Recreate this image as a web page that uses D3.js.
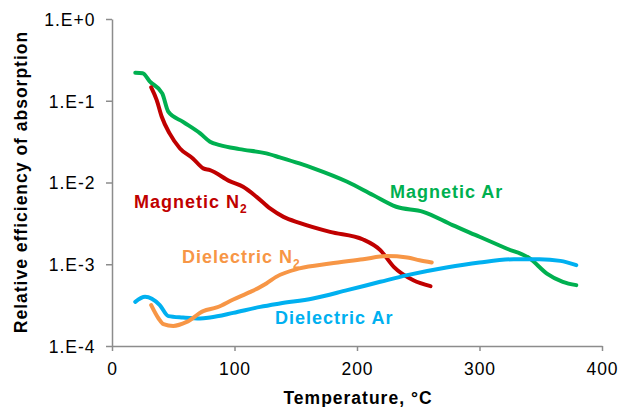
<!DOCTYPE html>
<html>
<head>
<meta charset="utf-8">
<script src="https://cdn.jsdelivr.net/npm/d3@7"></script>
<style>
  body { margin: 0; background: #fff; }
  svg { font-family: Arial, "Liberation Sans", sans-serif; }
  svg text { letter-spacing: 1px; }
</style>
</head>
<body>
<svg id="chart" width="622" height="407"></svg>
<script>
// temperature (°C) and relative efficiency
var magArT = [19, 25, 31, 41, 46, 58, 72, 80, 88, 104, 126, 137, 153, 164, 192, 213, 232, 254, 278, 300, 322, 341, 355, 368, 379];
var magArV = [0.22, 0.217, 0.171, 0.123, 0.0733, 0.0553, 0.0399, 0.0315, 0.0287, 0.0256, 0.0227, 0.0203, 0.0171, 0.015, 0.0102, 0.00702, 0.00505, 0.00438, 0.00301, 0.00217, 0.00156, 0.00118, 0.00077, 0.00061, 0.000555];

var magN2T = [32, 36.5, 40.6, 47, 55.5, 66, 74.5, 80, 96, 107, 118, 129, 140, 153, 178, 205, 219, 230, 246, 260];
var magN2V = [0.146, 0.102, 0.0637, 0.0399, 0.0261, 0.0197, 0.0149, 0.0142, 0.0104, 0.00886, 0.00668, 0.00482, 0.0038, 0.00321, 0.00249, 0.00201, 0.00149, 0.00093, 0.000638, 0.00054];

var dieArT = [19, 27, 39, 46, 58, 72, 80, 99, 121, 137, 164, 192, 219, 241, 273, 300, 328, 349, 366, 379];
var dieArV = [0.000347, 0.000399, 0.000316, 0.000232, 0.000223, 0.000217, 0.000223, 0.000254, 0.000301, 0.000331, 0.000381, 0.000482, 0.00061, 0.000736, 0.000914, 0.00105, 0.00115, 0.00115, 0.0011, 0.000975];

var dieN2T = [32, 38, 42, 50, 61, 74.5, 85.5, 99, 113, 126, 134, 153, 178, 205, 224, 241, 251, 261];
var dieN2V = [0.000316, 0.000217, 0.000185, 0.000176, 0.000197, 0.000267, 0.000296, 0.000371, 0.000459, 0.000582, 0.000701, 0.000889, 0.00102, 0.00115, 0.00126, 0.00121, 0.00112, 0.00105];

var xTicks = [0, 100, 200, 300, 400];
var yTicks = [1e-4, 1e-3, 1e-2, 1e-1, 1];
var yTickLabels = ['1.E-4', '1.E-3', '1.E-2', '1.E-1', '1.E+0'];

var series = [
    { t: magArT, v: magArV, color: '#00B050', label: 'Magnetic Ar', sub: '', lx: 390, ly: 198 },
    { t: magN2T, v: magN2V, color: '#C00000', label: 'Magnetic N', sub: '2', lx: 134, ly: 208 },
    { t: dieArT, v: dieArV, color: '#00B0F0', label: 'Dielectric Ar', sub: '', lx: 275, ly: 324 },
    { t: dieN2T, v: dieN2V, color: '#F79646', label: 'Dielectric N', sub: '2', lx: 182, ly: 263 }
];

var svg = d3.select('svg#chart');

var x = d3.scaleLinear().domain([0, 400]).range([112, 602]);
var y = d3.scaleLog().domain([1e-4, 1]).range([346, 19]);

var axisColor = '#8c8c8c';

// x axis
var xAxis = svg.append('g')
    .attr('transform', 'translate(0,346)')
    .call(d3.axisBottom(x).tickValues(xTicks).tickSize(5).tickPadding(12).tickSizeOuter(0));
xAxis.selectAll('text')
    .style('font-size', '17.5px')
    .attr('fill', '#000');

// y axis
var yAxis = svg.append('g')
    .attr('transform', 'translate(112,0)')
    .call(d3.axisLeft(y).tickValues(yTicks).tickSize(6).tickPadding(10.5).tickSizeOuter(0)
        .tickFormat(function (d, i) { return yTickLabels[i]; }));
yAxis.selectAll('text')
    .attr('dy', '0.37em')
    .style('font-size', '17.5px')
    .attr('fill', '#000');

svg.selectAll('.domain, .tick line')
    .attr('stroke', axisColor)
    .attr('stroke-width', 1.5);

// axis titles
svg.append('text')
    .attr('x', 358)
    .attr('y', 404)
    .attr('text-anchor', 'middle')
    .style('font-size', '17.5px')
    .style('font-weight', 'bold')
    .text('Temperature, °C');

svg.append('text')
    .attr('transform', 'translate(27,182) rotate(-90)')
    .attr('text-anchor', 'middle')
    .style('font-size', '17.5px')
    .style('font-weight', 'bold')
    .text('Relative efficiency of absorption');

// lines
var line = d3.line()
    .x(function (d) { return x(d[0]); })
    .y(function (d) { return y(d[1]); })
    .curve(d3.curveMonotoneX);

svg.selectAll('path.series')
    .data(series)
    .enter().append('path')
    .classed('series', true)
    .attr('fill', 'none')
    .attr('stroke', function (d) { return d.color; })
    .attr('stroke-width', 4)
    .attr('stroke-linejoin', 'round')
    .attr('stroke-linecap', 'round')
    .attr('d', function (d) { return line(d3.zip(d.t, d.v)); });

// series labels
var labels = svg.selectAll('text.label')
    .data(series)
    .enter().append('text')
    .classed('label', true)
    .attr('x', function (d) { return d.lx; })
    .attr('y', function (d) { return d.ly; })
    .attr('fill', function (d) { return d.color; })
    .style('font-size', '18px')
    .style('font-weight', 'bold')
    .text(function (d) { return d.label; });

labels.filter(function (d) { return d.sub; })
    .append('tspan')
    .attr('dy', 5)
    .style('font-size', '12px')
    .text(function (d) { return d.sub; });
</script>
</body>
</html>
